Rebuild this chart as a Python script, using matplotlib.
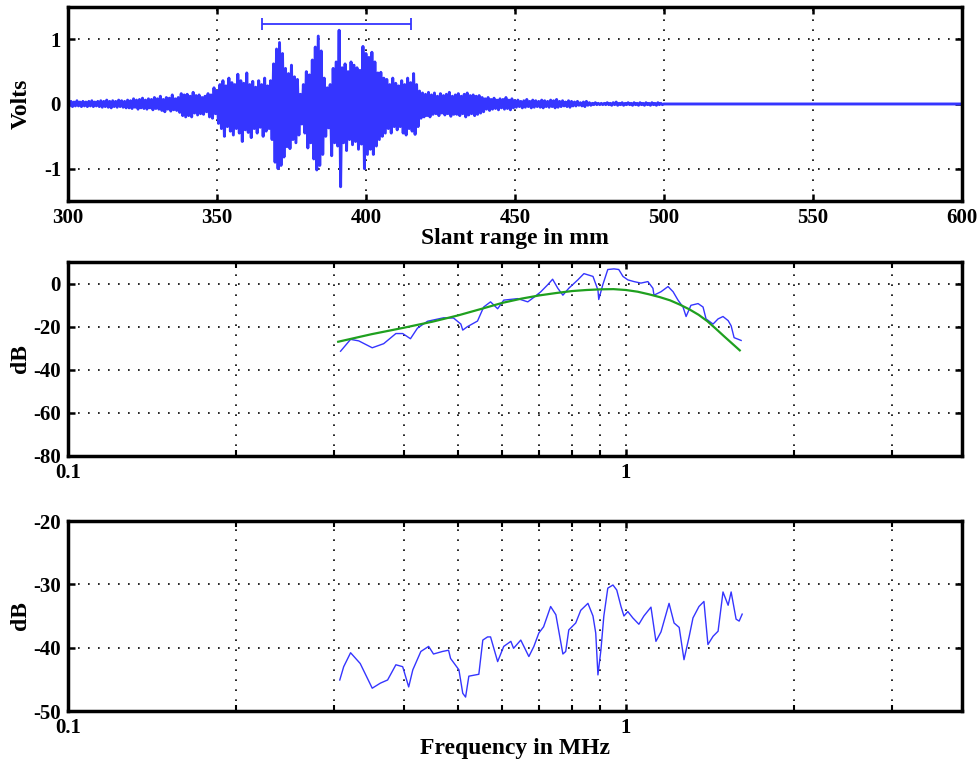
import numpy as np
import matplotlib.pyplot as plt
from matplotlib.ticker import NullFormatter, LogLocator

# A-scan: positive / negative peak per mm, 300..499 mm
pos_peak = [
    .03, .04, .03, .05, .03, .04, .03, .04, .05, .03,
    .04, .05, .04, .06, .04, .05, .04, .06, .05, .04,
    .06, .05, .08, .06, .07, .09, .06, .08, .07, .10,
    .08, .12, .07, .10, .09, .14, .08, .10, .16, .14,
    .15, .12, .18, .13, .14, .10, .12, .16, .14, .25,
    .20, .30, .36, .28, .40, .33, .30, .46, .36, .32,
    .48, .30, .35, .26, .36, .30, .40, .28, .36, .62,
    .85, .95, .78, .55, .47, .60, .42, .38, .15, .30,
    .50, .45, .68, .88, 1.05, .82, .40, .25, .30, .55,
    .65, 1.14, .56, .62, .50, .65, .60, .56, .52, .89,
    .78, .72, .80, .65, .48, .49, .40, .38, .30, .40,
    .32, .28, .36, .30, .40, .33, .47, .30, .20, .17,
    .15, .18, .14, .17, .12, .16, .13, .15, .18, .12,
    .14, .16, .12, .15, .17, .13, .14, .12, .13, .10,
    .08, .10, .07, .09, .06, .08, .07, .10, .06, .08,
    .05, .06, .04, .05, .07, .04, .06, .05, .04, .06,
    .05, .04, .06, .05, .07, .04, .05, .03, .05, .04,
    .03, .04, .02, .03, .04, .02, .01, .02, .01, .01,
    .01, .02, .01, .02, .03, .01, .02, .01, .02, .01,
    .02, .01, .02, .01, .02, .01, .02, .01, .02, .01]
neg_peak = [
    -.03, -.04, -.03, -.03, -.04, -.03, -.04, -.03, -.04, -.03,
    -.04, -.05, -.04, -.05, -.06, -.04, -.05, -.04, -.05, -.06,
    -.06, -.07, -.05, -.08, -.06, -.07, -.08, -.06, -.09, -.07,
    -.08, -.10, -.12, -.08, -.11, -.09, -.10, -.13, -.18, -.20,
    -.18, -.20, -.14, -.17, -.15, -.16, -.12, -.20, -.22, -.15,
    -.30, -.38, -.50, -.35, -.42, -.48, -.38, -.45, -.58, -.40,
    -.44, -.52, -.38, -.45, -.36, -.50, -.42, -.38, -.55, -.90,
    -1.00, -.95, -.82, -.66, -.69, -.55, -.60, -.48, -.31, -.45,
    -.68, -.60, -.85, -1.02, -.95, -.78, -.50, -.37, -.80, -.60,
    -.65, -1.28, -.60, -.72, -.55, -.63, -.58, -.70, -.62, -1.00,
    -.78, -.70, -.78, -.65, -.55, -.50, -.45, -.38, -.45, -.35,
    -.40, -.35, -.45, -.48, -.38, -.42, -.47, -.35, -.22, -.20,
    -.18, -.20, -.16, -.15, -.18, -.14, -.17, -.15, -.19, -.16,
    -.16, -.18, -.15, -.20, -.17, -.15, -.18, -.16, -.14, -.12,
    -.08, -.10, -.08, -.07, -.09, -.06, -.08, -.07, -.09, -.06,
    -.05, -.04, -.06, -.05, -.04, -.06, -.05, -.04, -.05, -.06,
    -.04, -.05, -.04, -.06, -.05, -.04, -.03, -.04, -.05, -.03,
    -.03, -.02, -.03, -.04, -.02, -.02, -.01, -.01, -.01, -.01,
    -.01, -.01, -.02, -.01, -.02, -.01, -.02, -.01, -.01, -.02,
    -.01, -.02, -.01, -.02, -.01, -.02, -.01, -.02, -.01, -.01]
tail_mm = [500, 600]
tail_v = [0.0, 0.0]
gate_mm = [365, 415]
gate_v = 1.23

# spectrum (dB) and fitted model
spec_f = [0.308, 0.321, 0.332, 0.351, 0.368, 0.387, 0.398, 0.411, 0.423, 0.441,
          0.471, 0.491, 0.506, 0.510, 0.520, 0.542, 0.556, 0.572, 0.589, 0.604,
          0.640, 0.667, 0.684, 0.704, 0.724, 0.739, 0.755, 0.771, 0.790, 0.820,
          0.841, 0.873, 0.891, 0.894, 0.909, 0.928, 0.952, 0.971, 0.988, 1.008,
          1.034, 1.064, 1.095, 1.118, 1.123, 1.156, 1.190, 1.215, 1.240, 1.266,
          1.282, 1.308, 1.347, 1.375, 1.392, 1.433, 1.463, 1.493, 1.525, 1.544,
          1.563, 1.609]
spec_db = [-31.4, -25.9, -26.6, -29.8, -27.9, -23.2, -23.2, -25.6, -20.7, -17.5,
           -15.9, -16.0, -18.8, -21.6, -20.0, -17.4, -10.9, -8.5, -11.7, -7.7,
           -7.0, -8.5, -6.4, -3.8, -0.6, 2.0, -2.2, -5.4, -2.2, 1.7,
           4.6, 3.3, -3.0, -7.4, -0.6, 6.5, 6.8, 6.5, 3.3, 1.7,
           0.9, 0.2, 0.9, -2.2, -5.4, -3.8, -1.4, -3.8, -7.7, -10.9,
           -15.3, -10.1, -9.3, -10.9, -16.4, -18.8, -16.4, -15.3, -17.2, -19.6,
           -25.1, -26.4]
fit_f = [0.305, 0.35, 0.4, 0.45, 0.5, 0.55, 0.6, 0.65, 0.7, 0.75, 0.8, 0.85,
         0.9, 0.95, 1.0, 1.05, 1.1, 1.15, 1.2, 1.25, 1.3, 1.35, 1.4, 1.45,
         1.5, 1.55, 1.6]
fit_db = [-27.0, -23.5, -20.5, -17.7, -14.8, -11.8, -9.0, -7.0, -5.5, -4.4,
          -3.5, -3.0, -2.7, -2.6, -3.0, -3.8, -5.0, -6.3, -7.8, -9.8, -12.0,
          -14.5, -17.5, -21.0, -24.5, -27.8, -31.0]

# spectrum ratio
ratio_f = [0.307, 0.312, 0.321, 0.334, 0.351, 0.363, 0.374, 0.387, 0.398, 0.408,
           0.415, 0.429, 0.443, 0.452, 0.469, 0.481, 0.485, 0.502, 0.510, 0.516,
           0.523, 0.545, 0.554, 0.565, 0.572, 0.589, 0.604, 0.622, 0.629, 0.648,
           0.670, 0.684, 0.698, 0.712, 0.733, 0.749, 0.771, 0.780, 0.790, 0.813,
           0.830, 0.855, 0.873, 0.883, 0.891, 0.902, 0.913, 0.928, 0.948, 0.963,
           0.980, 0.992, 1.008, 1.029, 1.055, 1.077, 1.109, 1.132, 1.156, 1.195,
           1.220, 1.246, 1.271, 1.298, 1.319, 1.352, 1.380, 1.403, 1.433, 1.463,
           1.493, 1.525, 1.544, 1.576, 1.596, 1.616]
ratio_db = [-45.1, -43.0, -40.8, -42.5, -46.4, -45.6, -45.1, -42.7, -43.0, -46.2,
            -43.5, -40.6, -39.8, -41.0, -40.6, -40.4, -41.7, -43.5, -47.2, -47.8,
            -44.5, -44.2, -38.8, -38.3, -38.3, -42.2, -39.8, -39.0, -40.1, -38.8,
            -41.4, -39.8, -37.7, -36.7, -33.5, -34.8, -41.0, -40.6, -37.2, -36.1,
            -34.1, -33.0, -35.0, -37.7, -44.3, -40.4, -35.0, -30.6, -30.1, -30.9,
            -33.5, -35.0, -34.3, -35.3, -36.3, -35.0, -33.6, -39.0, -37.5, -33.0,
            -36.1, -36.8, -41.9, -38.3, -35.3, -33.5, -32.7, -39.5, -38.2, -37.4,
            -31.2, -33.3, -31.2, -35.5, -35.8, -34.7]

blue = '#3535ff'
green = '#1fa01f'
plt.rcParams['font.family'] = ['Liberation Serif', 'DejaVu Serif']
plt.rcParams['font.weight'] = 'bold'
plt.rcParams['font.size'] = 15
plt.rcParams['axes.labelsize'] = 17
plt.rcParams['axes.labelweight'] = 'bold'
plt.rcParams['axes.unicode_minus'] = False

fig = plt.figure(figsize=(9.8, 7.66), dpi=100)
ax1 = fig.add_axes([0.0694, 0.7376, 0.912, 0.2533])
ax2 = fig.add_axes([0.0694, 0.4047, 0.912, 0.2533])
ax3 = fig.add_axes([0.0694, 0.0718, 0.912, 0.248])

mm = np.arange(300, 500)
sig_x = np.concatenate([np.column_stack([mm, mm + 0.5]).ravel(), tail_mm])
sig_y = np.concatenate([np.column_stack([pos_peak, neg_peak]).ravel(), tail_v])
ax1.plot(sig_x, sig_y, color=blue, lw=2.1)
ax1.errorbar((gate_mm[0] + gate_mm[1]) / 2, gate_v, xerr=(gate_mm[1] - gate_mm[0]) / 2,
             color=blue, lw=1.3, capsize=4, capthick=1.3)
ax1.set_xlim(300, 600)
ax1.set_ylim(-1.5, 1.5)
ax1.set_xticks([300, 350, 400, 450, 500, 550, 600])
ax1.set_yticks([-1, 0, 1])
ax1.set_ylabel('Volts')
ax1.set_xlabel('Slant range in mm', labelpad=0)

ax2.semilogx(spec_f, spec_db, color=blue, lw=1.0)
ax2.semilogx(fit_f, fit_db, color=green, lw=1.6)
ax2.set_ylim(-80, 10)
ax2.set_yticks([-80, -60, -40, -20, 0])
ax2.set_ylabel('dB')

ax3.semilogx(ratio_f, ratio_db, color=blue, lw=1.0)
ax3.set_ylim(-50, -20)
ax3.set_yticks([-50, -40, -30, -20])
ax3.set_ylabel('dB')
ax3.set_xlabel('Frequency in MHz', labelpad=0)

for ax in (ax2, ax3):
    ax.set_xlim(0.1, 4)
    ax.set_xticks([0.1, 1], ['0.1', '1'])
    ax.xaxis.set_minor_locator(LogLocator(base=10, subs=np.arange(2, 10)))
    ax.xaxis.set_minor_formatter(NullFormatter())
    ax.tick_params(which='minor', direction='in', top=True, length=4, width=1.5)

for ax in (ax1, ax2, ax3):
    ax.grid(True, which='both', color='black', linestyle=(0, (1, 5)), linewidth=1.2)
    ax.tick_params(which='major', direction='in', top=True, right=True,
                   length=5, width=1.8, pad=5)
    for s in ax.spines.values():
        s.set_linewidth(2.5)
    ax.yaxis.set_label_coords(-0.041, 0.5)

fig.savefig('out.png', dpi=100)
